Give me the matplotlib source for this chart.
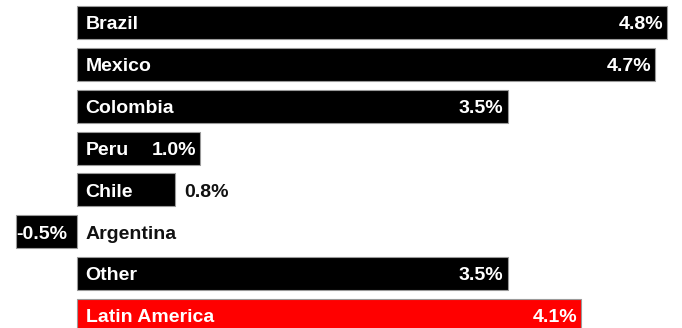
import matplotlib
matplotlib.use("Agg")
import matplotlib.pyplot as plt

# GDP growth by country
countries = ["Brazil", "Mexico", "Colombia", "Peru", "Chile", "Argentina", "Other", "Latin America"]
growth = [4.8, 4.7, 3.5, 1.0, 0.8, -0.5, 3.5, 4.1]
value_labels = ["4.8%", "4.7%", "3.5%", "1.0%", "0.8%", "-0.5%", "3.5%", "4.1%"]
colors = ["black"] * 7 + ["#ff0000"]

plt.rcParams["font.family"] = ["Liberation Sans", "DejaVu Sans"]

W, H = 682, 328
fig = plt.figure(figsize=(W / 100, H / 100), dpi=100)
ax = fig.add_axes([0, 0, 1, 1])

px_per_unit = 123.0   # pixels per percentage point
zero_px = 77.0
row_px = 41.85
first_center_px = 22.5

ax.set_xlim(-zero_px / px_per_unit, (W - zero_px) / px_per_unit)
ax.set_ylim((H - first_center_px) / row_px, -first_center_px / row_px)
ax.axis("off")

ypos = list(range(len(countries)))
ax.barh(ypos, growth, height=0.79, color=colors, edgecolor="#9a9a9a", linewidth=0.8)

fs = 14.0
pad = 8.5 / px_per_unit
end_pad = 4 / px_per_unit
base = 6.8 / row_px   # shift from bar centre to text baseline

for y, name, v, lab in zip(ypos, countries, growth, value_labels):
    if v < 0:
        ax.text(v + 0.5 / px_per_unit, y + base, lab, color="white", fontsize=fs,
                fontweight="bold", ha="left", va="baseline")
        ax.text(pad, y + base, name, color="#111111", fontsize=fs,
                fontweight="bold", ha="left", va="baseline")
        continue
    ax.text(pad, y + base, name, color="white", fontsize=fs,
            fontweight="bold", ha="left", va="baseline")
    if v >= 0.9:
        ax.text(v - end_pad, y + base, lab, color="white", fontsize=fs,
                fontweight="bold", ha="right", va="baseline")
    else:
        ax.text(v + 9 / px_per_unit, y + base, lab, color="#111111", fontsize=fs,
                fontweight="bold", ha="left", va="baseline")

fig.savefig("out.png", dpi=100)
